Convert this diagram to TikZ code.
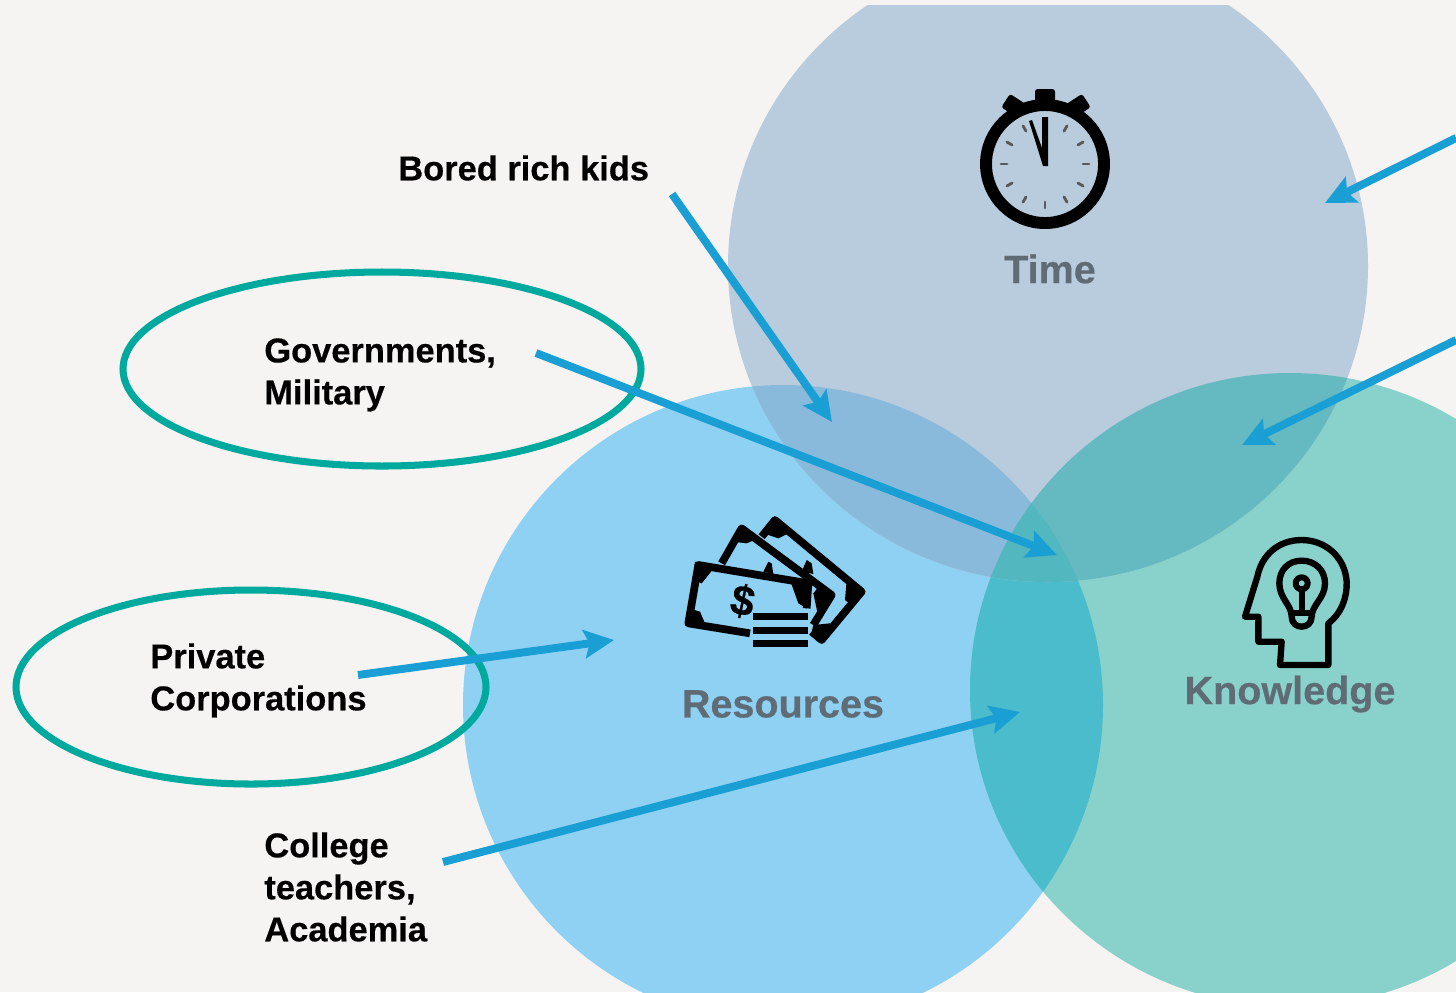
\documentclass[tikz,border=0pt]{standalone}
\usepackage{fontspec}
\setmainfont{Liberation Sans}[BoldFeatures={FakeBold=0.4}]
\usepackage{tikz}
\usetikzlibrary{
    arrows.meta,
    calc,
    positioning
}
\definecolor{bgcol}{HTML}{F6F4F2}
\definecolor{timecol}{HTML}{B8CCDD}
\definecolor{rescol}{HTML}{8ED1F2}
\definecolor{knowcol}{HTML}{88D2CB}
\definecolor{timerescol}{HTML}{8ABADB}
\definecolor{timeknowcol}{HTML}{64BAC0}
\definecolor{resknowcol}{HTML}{4ABCCB}
\definecolor{allcol}{HTML}{52B7BE}
\definecolor{arrowcol}{HTML}{1A9FD4}
\definecolor{ringcol}{HTML}{00A99D}
\definecolor{titlecol}{HTML}{5F6B75}
\tikzset{
    pointer/.style={draw=arrowcol, line width=4.5pt, -{Stealth[length=17pt, width=16pt, inset=3pt]}},
    ring/.style={draw=ringcol, line width=4pt},
    who/.style={align=left, anchor=north west, inner sep=0pt, font=\fontsize{19.6}{23.9}\selectfont\bfseries},
    title/.style={inner sep=0pt, text=titlecol, font=\fontsize{22.5}{26}\selectfont\bfseries},
    icon/.style={draw=black, line width=4.4pt, line join=round}
}
\begin{document}
\begin{tikzpicture}[x=0.02cm, y=-0.02cm]
    \useasboundingbox (0, 0) rectangle (1456, 992);
    \fill[bgcol] (0, 0) rectangle (1456, 992);
    % circles
    \begin{scope}
        \clip (0, 5) rectangle (1456, 992);
        \fill[rescol] (783, 705) circle (320);
        \fill[knowcol] (1290, 690) ellipse [x radius=320, y radius=317];
        \begin{scope}
            \clip (783, 705) circle (320);
            \fill[resknowcol] (1290, 690) ellipse [x radius=320, y radius=317];
        \end{scope}
        \fill[timecol] (1048, 266) ellipse [x radius=320, y radius=316];
        \begin{scope}
            \clip (1048, 266) ellipse [x radius=320, y radius=316];
            \fill[timerescol] (783, 705) circle (320);
            \fill[timeknowcol] (1290, 690) ellipse [x radius=320, y radius=317];
            \clip (783, 705) circle (320);
            \fill[allcol] (1290, 690) ellipse [x radius=320, y radius=317];
        \end{scope}
    \end{scope}
    % stopwatch
    \draw[icon, line width=6.8pt] (1045, 164) circle (59);
    \fill[rounded corners=1.5pt] (1035, 89) rectangle (1055, 108);
    \fill[rotate around={-33:(1014, 106)}, rounded corners=1.5pt] (1004, 98) rectangle (1024, 114);
    \fill[rotate around={33:(1078, 106)}, rounded corners=1.5pt] (1068, 98) rectangle (1088, 114);
    \foreach \a in {0, 30, ..., 330}
        \draw[line width=1.6pt, color=black!65, line cap=round] (1045, 164) ++(\a:38) -- ++(\a:6);
    \fill (1042, 117) -- (1048, 117) -- (1048, 166) -- (1043, 166) -- (1029, 121) -- (1032, 120) -- (1042, 148) -- cycle;
    % money
    \begin{scope}[shift={(670, 500)}, x=0.00667cm, y=-0.00667cm]
        \draw[icon] (425, 395) -- (455, 420) -- (575, 275) -- (315, 60) -- (275, 110);
        \draw[icon] (155, 190) -- (215, 85) -- (485, 285) -- (430, 375);
        \draw[icon] (240, 400) -- (55, 370) -- (85, 195) -- (415, 250) -- (410, 325);
        \fill (315, 55) -- (365, 95) -- (325, 115) -- (280, 100) -- cycle;
        \fill (580, 275) -- (550, 320) -- (525, 300) -- (530, 240) -- cycle;
        \fill (455, 420) -- (425, 395) -- (430, 375) -- (480, 370) -- cycle;
        \fill (215, 80) -- (265, 115) -- (230, 130) -- (190, 125) -- cycle;
        \fill (490, 285) -- (445, 350) -- (430, 280) -- (450, 255) -- cycle;
        \fill (75, 185) -- (135, 200) -- (95, 250) -- (70, 240) -- cycle;
        \fill (45, 370) -- (110, 382) -- (90, 335) -- (55, 325) -- cycle;
        \fill (360, 240) -- (418, 250) -- (410, 325) -- (385, 310) -- cycle;
        \fill (280, 215) -- (295, 185) -- (305, 190) -- (310, 222) -- cycle;
        \fill (395, 215) -- (410, 180) -- (425, 190) -- (430, 222) -- cycle;
        \fill (250, 340) rectangle (415, 360);
        \fill (250, 380) rectangle (415, 402);
        \fill (250, 420) rectangle (415, 442);
        \node[rotate=-12, inner sep=0pt, font=\fontsize{24}{24}\selectfont\bfseries] (dollar) at (218, 303) {\$};
    \end{scope}
    % head
    \begin{scope}[shift={(1220, 520)}, x=0.00667cm, y=-0.00667cm]
        \draw[icon, line width=3.6pt] (180, 435) -- (325, 435) -- (325, 310)
            .. controls (365, 280) and (382, 230) .. (380, 185)
            .. controls (375, 110) and (315, 60) .. (245, 60)
            .. controls (175, 60) and (125, 105) .. (112, 170)
            -- (75, 290) -- (115, 290) -- (115, 365) -- (185, 365) -- cycle;
        \draw[icon, line width=3.6pt] (215, 290)
            .. controls (215, 255) and (178, 235) .. (178, 190)
            .. controls (178, 150) and (205, 122) .. (245, 122)
            .. controls (285, 122) and (315, 150) .. (315, 190)
            .. controls (315, 235) and (275, 255) .. (275, 290)
            .. controls (275, 330) and (215, 330) .. (215, 290) -- cycle;
        \draw[icon, line width=3.4pt] (245, 190) circle (18);
        \draw[icon, line width=3.4pt] (245, 208) -- (245, 280);
        \draw[icon, line width=3.4pt] (215, 280) -- (275, 280);
    \end{scope}
    % titles
    \node[title] (time) at (1050, 269) {Time};
    \node[title] (resources) at (783, 704) {Resources};
    \node[title] (knowledge) at (1290, 694) {Knowledge};
    % rings
    \draw[ring] (382, 369) ellipse [x radius=259, y radius=97];
    \draw[ring] (251, 687) ellipse [x radius=235, y radius=97];
    % labels
    \node[who] (kids) at (398, 155) {Bored rich kids};
    \node[who] (gov) at (264, 338) {Governments,\\Military};
    \node[who] (corp) at (150, 643) {Private\\Corporations};
    \node[who] (college) at (264, 832) {College\\teachers,\\Academia};
    % arrows
    \coordinate (kidsfrom) at (672, 194);
    \coordinate (kidsto) at (832, 422);
    \coordinate (govfrom) at (536, 353);
    \coordinate (govto) at (1057, 555);
    \coordinate (corpfrom) at (358, 675);
    \coordinate (corpto) at (614, 640);
    \coordinate (collegefrom) at (443, 862);
    \coordinate (collegeto) at (1020, 712);
    \coordinate (rightafrom) at (1456, 138);
    \coordinate (rightato) at (1325, 203);
    \coordinate (rightbfrom) at (1456, 340);
    \coordinate (rightbto) at (1242, 445);
    \draw[pointer] (kidsfrom) -- (kidsto);
    \draw[pointer] (govfrom) -- (govto);
    \draw[pointer] (corpfrom) -- (corpto);
    \draw[pointer] (collegefrom) -- (collegeto);
    \draw[pointer] (rightafrom) -- (rightato);
    \draw[pointer] (rightbfrom) -- (rightbto);
\end{tikzpicture}
\end{document}
